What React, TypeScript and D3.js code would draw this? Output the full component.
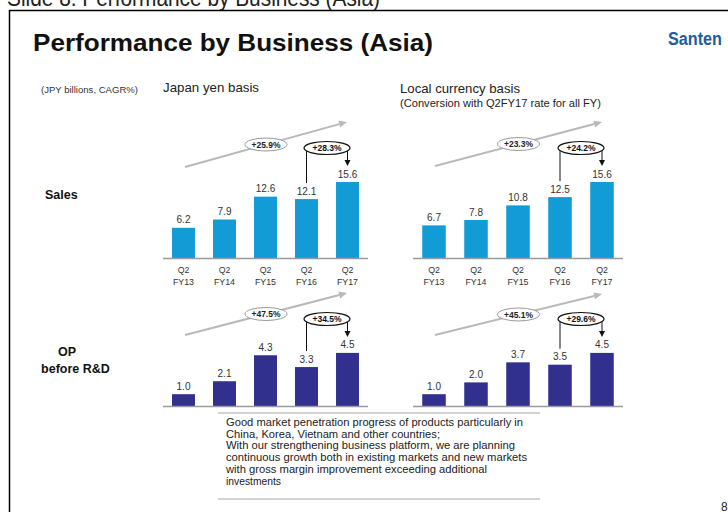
import React from "react";
import * as d3 from "d3";

// ---------- data ----------
const PERIOD = "Q2";
const FISCAL_YEARS = ["FY13", "FY14", "FY15", "FY16", "FY17"];
const SALES_JPY = [6.2, 7.9, 12.6, 12.1, 15.6];
const SALES_LOCAL = [6.7, 7.8, 10.8, 12.5, 15.6];
const OP_JPY = [1.0, 2.1, 4.3, 3.3, 4.5];
const OP_LOCAL = [1.0, 2.0, 3.7, 3.5, 4.5];
const CAGR_SALES = ["+25.9%", "+23.3%"];
const CAGR_OP = ["+47.5%", "+45.1%"];
const YOY_SALES = ["+28.3%", "+24.2%"];
const YOY_OP = ["+34.5%", "+29.6%"];
const NOTE_LINES = [
  "Good market penetration progress of products particularly in",
  "China, Korea, Vietnam and other countries;",
  "With our strengthening business platform, we are planning",
  "continuous growth both in existing markets and new markets",
  "with gross margin improvement exceeding additional",
  "investments",
];
const NOTE_WIDTHS = [297, 214, 289, 301, 261, 55];

const SALES_COLOR = "#139bd6";
const OP_COLOR = "#31308e";
const FONT = "Liberation Sans, Arial, sans-serif";
const fmt = d3.format(".1f");

type PanelProps = {
  values: number[];
  x0: number;
  x1: number;
  base: number;
  yMax: number;
  height: number;
  color: string;
  cagr: string;
  yoy: string;
  cagrStartDy: number;
  cagrEndDy: number;
  yoyDy: number;
  showTicks: boolean;
};

function Panel(p: PanelProps) {
  const x = d3
    .scaleBand<string>()
    .domain(FISCAL_YEARS)
    .range([p.x0, p.x1])
    .paddingInner(0.44)
    .paddingOuter(0.22);
  const y = d3.scaleLinear().domain([0, p.yMax]).range([p.base, p.base - p.height]);
  const bw = x.bandwidth();
  const c4 = (x(FISCAL_YEARS[3]) as number) + bw / 2;
  const c5 = (x(FISCAL_YEARS[4]) as number) + bw / 2;

  // CAGR arrow
  const ax0 = p.x0 + 22;
  const ax1 = p.x1 - 21;
  const ay0 = p.base - p.cagrStartDy;
  const ay1 = p.base - p.cagrEndDy;
  const ang = Math.atan2(ay1 - ay0, ax1 - ax0);
  const headLen = 8;
  const hw = 3.5;
  const hx = ax1 - headLen * Math.cos(ang);
  const hy = ay1 - headLen * Math.sin(ang);
  const head = `M${ax1},${ay1}L${hx - hw * Math.sin(ang)},${hy + hw * Math.cos(ang)}L${hx + hw * Math.sin(ang)},${hy - hw * Math.cos(ang)}Z`;

  // YoY bracket
  const topY = p.base - p.yoyDy;
  const leftBottom = y(p.values[3]) - 16;
  const arrowTip = y(p.values[4]) - 16;
  const bracket = `M${c4},${leftBottom}V${topY}H${c5}V${arrowTip - 5}`;
  const arrowHead = `M${c5 - 3},${arrowTip - 6}L${c5 + 3},${arrowTip - 6}L${c5},${arrowTip}Z`;

  return (
    <g>
      {/* CAGR */}
      <line x1={ax0} y1={ay0} x2={hx} y2={hy} stroke="#b9b9b9" strokeWidth={2} />
      <path d={head} fill="#b9b9b9" />
      <ellipse cx={(ax0 + ax1) / 2} cy={(ay0 + ay1) / 2} rx={21} ry={6.5} fill="#fff" stroke="#9a9a9a" strokeWidth={1} />
      <text x={(ax0 + ax1) / 2} y={(ay0 + ay1) / 2 + 3.2} textAnchor="middle" fontSize={8.5} fontWeight="bold" fill="#222" fontFamily={FONT}>
        {p.cagr}
      </text>
      {/* YoY */}
      <path d={bracket} fill="none" stroke="#111" strokeWidth={1} />
      <path d={arrowHead} fill="#111" />
      <ellipse cx={(c4 + c5) / 2} cy={topY} rx={23} ry={6.5} fill="#fff" stroke="#111" strokeWidth={1.2} />
      <text x={(c4 + c5) / 2} y={topY + 3.2} textAnchor="middle" fontSize={8.5} fontWeight="bold" fill="#111" fontFamily={FONT}>
        {p.yoy}
      </text>
      {/* bars */}
      {p.values.map((v, i) => (
        <g key={i}>
          <rect x={x(FISCAL_YEARS[i])} y={y(v)} width={bw} height={p.base - y(v)} fill={p.color} />
          <text x={(x(FISCAL_YEARS[i]) as number) + bw / 2} y={y(v) - 4.5} textAnchor="middle" fontSize={10} fill="#333" fontFamily={FONT}>
            {fmt(v)}
          </text>
        </g>
      ))}
      <line x1={p.x0} x2={p.x1} y1={p.base + 0.5} y2={p.base + 0.5} stroke="#9a9a9a" strokeWidth={1.5} />
      {p.showTicks &&
        FISCAL_YEARS.map((fy) => (
          <g key={fy}>
            <text x={(x(fy) as number) + bw / 2} y={p.base + 15} textAnchor="middle" fontSize={8.8} fill="#333" fontFamily={FONT}>
              {PERIOD}
            </text>
            <text x={(x(fy) as number) + bw / 2} y={p.base + 27} textAnchor="middle" fontSize={8.8} fill="#333" fontFamily={FONT}>
              {fy}
            </text>
          </g>
        ))}
    </g>
  );
}

export default function App() {
  const salesBase = 258;
  const opBase = 406;
  const L = [163, 368];
  const R = [413, 623];
  return (
    <svg
      width={728}
      height={512}
      viewBox="0 0 728 512"
      style={{ position: "absolute", left: 0, top: 0, background: "#fff" }}
      fontFamily={FONT}
    >
      <rect x={0} y={0} width={728} height={512} fill="#fff" />
      <text x={7} y={6} fontSize={24} fill="#222" textLength={373} lengthAdjust="spacingAndGlyphs">
        Slide 8: Performance by Business (Asia)
      </text>
      <path d="M9.5,520V10.5H740" fill="none" stroke="#000" strokeWidth={1.5} />
      <text x={33} y={51} fontSize={24} fontWeight="bold" fill="#111" textLength={400} lengthAdjust="spacingAndGlyphs">
        Performance by Business (Asia)
      </text>
      <text x={668} y={45} fontSize={18} fontWeight="bold" fill="#1d5d9c" textLength={54} lengthAdjust="spacingAndGlyphs">
        Santen
      </text>

      <text x={41} y={93} fontSize={8.5} fill="#333" textLength={97} lengthAdjust="spacingAndGlyphs">
        (JPY billions, CAGR%)
      </text>
      <text x={163} y={92} fontSize={13} fill="#222" textLength={96} lengthAdjust="spacingAndGlyphs">
        Japan yen basis
      </text>
      <text x={400} y={93} fontSize={13} fill="#222" textLength={120} lengthAdjust="spacingAndGlyphs">
        Local currency basis
      </text>
      <text x={400} y={107} fontSize={10.5} fill="#222" textLength={201} lengthAdjust="spacingAndGlyphs">
        (Conversion with Q2FY17 rate for all FY)
      </text>

      <text x={45} y={199} fontSize={12.5} fontWeight="bold" fill="#111">
        Sales
      </text>
      <text x={67} y={356} fontSize={12.5} fontWeight="bold" fill="#111" textAnchor="middle">
        OP
      </text>
      <text x={75.5} y={373} fontSize={12.5} fontWeight="bold" fill="#111" textAnchor="middle">
        before R&amp;D
      </text>

      <Panel values={SALES_JPY} x0={L[0]} x1={L[1]} base={salesBase} yMax={20} height={97.4} color={SALES_COLOR} cagr={CAGR_SALES[0]} yoy={YOY_SALES[0]} cagrStartDy={91} cagrEndDy={136} yoyDy={110} showTicks />
      <Panel values={SALES_LOCAL} x0={R[0]} x1={R[1]} base={salesBase} yMax={20} height={97.4} color={SALES_COLOR} cagr={CAGR_SALES[1]} yoy={YOY_SALES[1]} cagrStartDy={92} cagrEndDy={136} yoyDy={110} showTicks />
      <Panel values={OP_JPY} x0={L[0]} x1={L[1]} base={opBase} yMax={5} height={59} color={OP_COLOR} cagr={CAGR_OP[0]} yoy={YOY_OP[0]} cagrStartDy={71} cagrEndDy={113} yoyDy={87} showTicks={false} />
      <Panel values={OP_LOCAL} x0={R[0]} x1={R[1]} base={opBase} yMax={5} height={59} color={OP_COLOR} cagr={CAGR_OP[1]} yoy={YOY_OP[1]} cagrStartDy={71} cagrEndDy={112} yoyDy={87} showTicks={false} />

      <line x1={218} x2={540} y1={413} y2={413} stroke="#c4c4c4" strokeWidth={1.5} />
      <line x1={218} x2={540} y1={499} y2={499} stroke="#c4c4c4" strokeWidth={1.5} />
      {NOTE_LINES.map((t, i) => (
        <text key={i} x={226} y={426 + i * 11.7} fontSize={10.8} fill="#222" textLength={NOTE_WIDTHS[i]} lengthAdjust="spacingAndGlyphs">
          {t}
        </text>
      ))}
      <text x={721} y={511} fontSize={12} fill="#222">
        8
      </text>
    </svg>
  );
}
